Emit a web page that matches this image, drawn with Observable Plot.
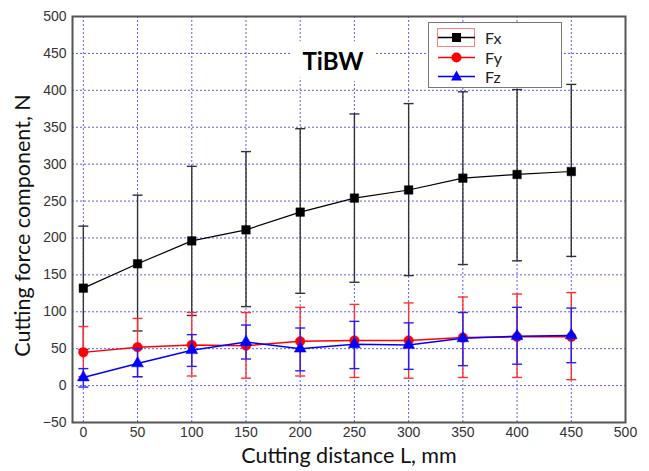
<!DOCTYPE html>
<html>
<head>
<meta charset="utf-8">
<script src="https://cdn.jsdelivr.net/npm/d3@7"></script>
<script src="https://cdn.jsdelivr.net/npm/@observablehq/plot@0.6"></script>
<style>
  html, body { margin: 0; padding: 0; background: #fff; }
  #wrap { position: relative; width: 649px; height: 471px; }
  #legend { position: absolute; left: 428px; top: 22px; width: 134px; height: 66px;
    border: 1px solid #777; background: #fff; box-sizing: border-box; }
  #legend .item { position: absolute; left: 0; height: 20px; width: 130px; }
  #legend svg { position: absolute; left: 8px; top: 0; }
  #legend span { position: absolute; left: 56px; top: 0px; font-family: Lato, "Open Sans", sans-serif; font-size: 16px; color: #222; }
</style>
</head>
<body>
<div id="wrap"><div id="legend"></div></div>
<script>
// ---- data ----
const distance = [0, 50, 100, 150, 200, 250, 300, 350, 400, 450];
const fxMean = [132, 165, 196, 211, 235, 254, 265, 281, 286, 290];
const fxLow  = [49, 74, 95, 107, 125, 140, 149, 164, 169, 175];
const fxHigh = [216, 258, 297, 317, 348, 368, 382, 398, 401, 408];
const fyMean = [45, 52, 55, 54, 60, 61, 61, 65, 66, 66];
const fyLow  = [12, 12, 13, 10, 13, 11, 10, 11, 11, 8];
const fyHigh = [80, 91, 99, 99, 106, 110, 112, 120, 124, 126];
const fzMean = [11, 30, 48, 59, 50, 56, 55, 64, 67, 68];
const fzLow  = [-2, 12, 26, 36, 20, 23, 22, 27, 29, 31];
const fzHigh = [23, 50, 69, 82, 78, 87, 85, 99, 106, 105];
const seriesNames = ["Fx", "Fy", "Fz"];
const xTicks = [0, 50, 100, 150, 200, 250, 300, 350, 400, 450, 500];
const yTicks = [-50, 0, 50, 100, 150, 200, 250, 300, 350, 400, 450, 500];
const chartTitle = "TiBW";
const xLabel = "Cutting distance L, mm";
const yLabel = "Cutting force component, N";

const rows = (m, lo, hi) => distance.map((d, i) => ({x: d, y: m[i], lo: lo[i], hi: hi[i]}));
const fx = rows(fxMean, fxLow, fxHigh);
const fy = rows(fyMean, fyLow, fyHigh);
const fz = rows(fzMean, fzLow, fzHigh);

const cap = { draw(ctx) { ctx.moveTo(-5, 0); ctx.lineTo(5, 0); } };

function seriesMarks(data, color, barColor, symbol, r, lw) {
  return [
    Plot.ruleX(data, {x: "x", y1: "lo", y2: "hi", stroke: barColor, strokeWidth: 1.4}),
    Plot.dot(data, {x: "x", y: "lo", symbol: cap, fill: "none", stroke: barColor, strokeWidth: 1.4}),
    Plot.dot(data, {x: "x", y: "hi", symbol: cap, fill: "none", stroke: barColor, strokeWidth: 1.4}),
    Plot.line(data, {x: "x", y: "y", stroke: color, strokeWidth: lw}),
    Plot.dot(data, {x: "x", y: "y", symbol, r, fill: color, stroke: color, strokeWidth: 0.5})
  ];
}

const chart = Plot.plot({
  width: 649,
  height: 471,
  marginLeft: 72,
  marginRight: 24,
  marginTop: 16,
  marginBottom: 49,
  style: {fontFamily: "'Liberation Sans', Arial, sans-serif", fontSize: "14px", color: "#333", background: "#fff"},
  x: {domain: [-10, 500]},
  y: {domain: [-50, 500]},
  marks: [
    Plot.ruleX(xTicks.slice(0, -1), {stroke: "#5c5cff", strokeDasharray: "2,2", strokeWidth: 1}),
    Plot.ruleY(yTicks.slice(1, -1), {stroke: "#5c5cff", strokeDasharray: "2,2", strokeWidth: 1}),
    Plot.text([chartTitle], {frameAnchor: "top", dx: -16, dy: 36, text: d => d,
      fontFamily: "Lato, 'Open Sans', sans-serif", fontWeight: "bold", fontSize: 24, fill: "#000",
      stroke: "#fff", strokeWidth: 22}),
    ...seriesMarks(fx, "#000", "#333", "square", 4.8, 1.2),
    ...seriesMarks(fy, "#ff0000", "#ff3030", "circle", 4.8, 1.5),
    ...seriesMarks(fz, "#0000ff", "#2020ff", "triangle", 4.4, 1.5),
    Plot.axisX({ticks: xTicks, tickSize: 0, tickPadding: 5, label: null, fill: "#333"}),
    Plot.axisY({ticks: yTicks, tickSize: 0, tickPadding: 6, label: null, fill: "#333"}),
    Plot.text([xLabel], {frameAnchor: "bottom", dy: 40, text: d => d, textAnchor: "middle",
      fontFamily: "Lato, 'Open Sans', sans-serif", fontSize: 21.5, fill: "#111"}),
    Plot.text([yLabel], {frameAnchor: "left", dx: -49, dy: 6, rotate: -90, text: d => d, textAnchor: "middle",
      fontFamily: "Lato, 'Open Sans', sans-serif", fontSize: 21.5, fill: "#111"}),
    Plot.frame({stroke: "#555", strokeWidth: 2})
  ]
});
const wrap = document.getElementById("wrap");
wrap.insertBefore(chart, wrap.firstChild);

// legend
const legend = document.getElementById("legend");
const legendStyles = [
  {color: "#000", sym: "square"},
  {color: "#ff0000", sym: "circle"},
  {color: "#0000ff", sym: "triangle"}
];
seriesNames.forEach((name, i) => {
  const item = document.createElement("div");
  item.className = "item";
  item.style.top = (5 + i * 19.5) + "px";
  const s = legendStyles[i];
  let symbol;
  if (s.sym === "square") symbol = `<rect x="15" y="5" width="9" height="9" fill="${s.color}"/>`;
  else if (s.sym === "circle") symbol = `<circle cx="19.5" cy="9.5" r="5" fill="${s.color}"/>`;
  else symbol = `<path d="M19.5,3.5 L25,13.5 L14,13.5 Z" fill="${s.color}"/>`;
  const box = i === 0 ? `<rect x="0.5" y="0.5" width="37" height="18" fill="none" stroke="#ff8080" stroke-width="1"/>` : "";
  item.innerHTML = `<svg width="40" height="20">${box}<line x1="1" x2="38" y1="9.5" y2="9.5" stroke="${s.color}" stroke-width="1.3"/>${symbol}</svg><span>${name}</span>`;
  legend.appendChild(item);
});
</script>
</body>
</html>
